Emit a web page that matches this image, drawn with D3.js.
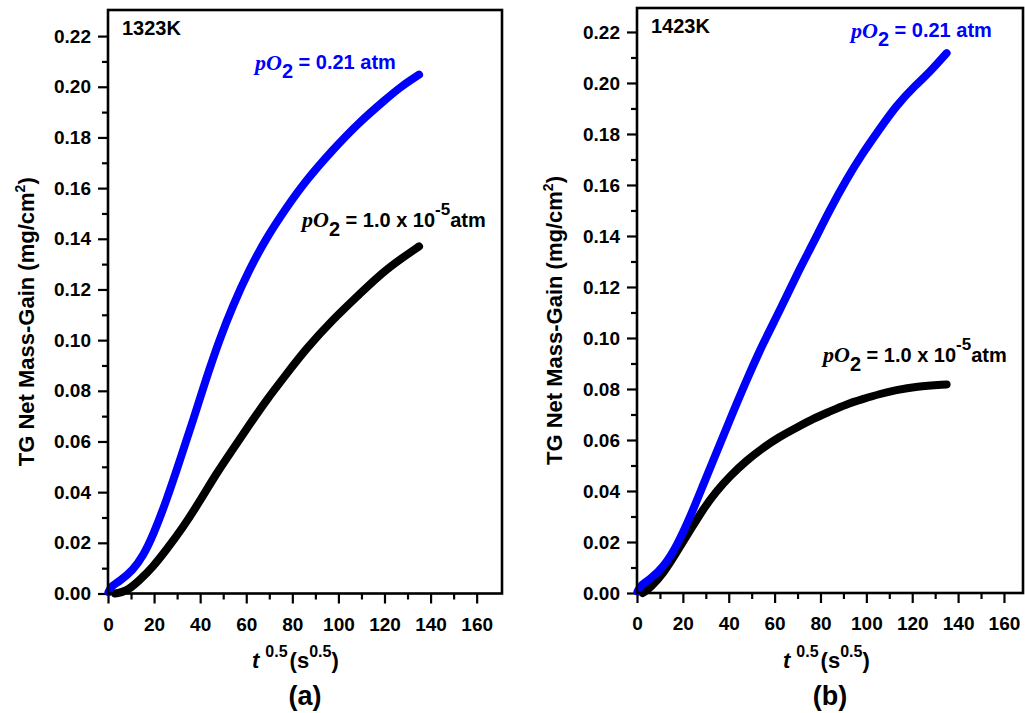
<!DOCTYPE html>
<html>
<head>
<meta charset="utf-8">
<script src="https://cdn.jsdelivr.net/npm/d3@7"></script>
<style>
  body { margin: 0; background: #fff; }
  svg { display: block; font-family: "Liberation Sans", Arial, sans-serif; font-weight: bold; }
</style>
</head>
<body>
<svg id="chart" width="1025" height="713"></svg>
<script>
// values: t^0.5 (s^0.5) vs mass gain (mg/cm2)
var blue1323X = [0.2, 1.5, 5, 10.8, 15.2, 19.5, 25.3, 31, 36.8, 42.6, 48.3, 54.1, 61.3, 68.5, 77.2, 85.9, 97.4, 109, 120.5, 127, 135];
var blue1323Y = [0.0005, 0.003, 0.0048, 0.0092, 0.0148, 0.0228, 0.0365, 0.052, 0.068, 0.0848, 0.1, 0.1135, 0.1278, 0.14, 0.152, 0.163, 0.175, 0.186, 0.195, 0.2, 0.2048];
var black1323X = [3, 7.9, 13.7, 19.5, 25.3, 32.5, 39.7, 46.9, 54.1, 61.3, 68.5, 77.2, 85.9, 97.4, 109, 120.5, 135];
var black1323Y = [0.0, 0.0007, 0.0052, 0.0105, 0.0172, 0.026, 0.0362, 0.0472, 0.0568, 0.0665, 0.076, 0.0863, 0.0965, 0.108, 0.118, 0.128, 0.137];

var blue1423X = [0.2, 1.5, 5.8, 11.6, 17.4, 23.2, 28.9, 34.7, 40.5, 47.8, 55, 62.2, 69.5, 76.7, 83.9, 91.2, 98.4, 105.6, 112.9, 121.6, 127.4, 135];
var blue1423Y = [0.0005, 0.003, 0.0054, 0.0102, 0.0185, 0.0298, 0.0425, 0.0552, 0.068, 0.0836, 0.098, 0.1106, 0.1246, 0.137, 0.15, 0.162, 0.1725, 0.1817, 0.191, 0.1993, 0.204, 0.2117];
var black1423X = [2.5, 5.8, 11.6, 17.4, 23.2, 28.9, 34.7, 40.5, 47.8, 55, 62.2, 69.5, 76.7, 83.9, 91.2, 98.4, 105.6, 112.9, 121.6, 135];
var black1423Y = [0.0, 0.002, 0.0077, 0.0162, 0.0246, 0.033, 0.04, 0.0458, 0.052, 0.057, 0.0613, 0.0648, 0.0683, 0.0711, 0.074, 0.076, 0.078, 0.0796, 0.081, 0.0818];

var yTicks = [0, 0.02, 0.04, 0.06, 0.08, 0.10, 0.12, 0.14, 0.16, 0.18, 0.20, 0.22];
var yMinor = [0.01, 0.03, 0.05, 0.07, 0.09, 0.11, 0.13, 0.15, 0.17, 0.19, 0.21];
var xTicks = [0, 20, 40, 60, 80, 100, 120, 140, 160];
var xMinor = [10, 30, 50, 70, 90, 110, 130, 150];

var panels = [
    { temp: "1323K", tag: "(a)", left: 108, right: 502, top: 10, bottom: 593.5, xMax: 171, yMax: 0.2303,
      blue: [blue1323X, blue1323Y], black: [black1323X, black1323Y],
      blueLab: [255, 70], blackLab: [302, 227], yTitleX: 34, xTitleX: 252 },
    { temp: "1423K", tag: "(b)", left: 637, right: 1023, top: 8, bottom: 593, xMax: 168.3, yMax: 0.2294,
      blue: [blue1423X, blue1423Y], black: [black1423X, black1423Y],
      blueLab: [851, 38], blackLab: [823, 362], yTitleX: 562, xTitleX: 783 }
];

var svg = d3.select("#chart");

panels.forEach(function(p) {
    var x = d3.scaleLinear().domain([0, p.xMax]).range([p.left, p.right]);
    var y = d3.scaleLinear().domain([0, p.yMax]).range([p.bottom, p.top]);
    var g = svg.append("g");

    // minor ticks first so the major ones sit on top
    g.append("g").attr("transform", "translate(0," + p.bottom + ")")
        .call(d3.axisBottom(x).tickValues(xMinor).tickSize(6).tickSizeOuter(0).tickFormat(""));
    g.append("g").attr("transform", "translate(" + p.left + ",0)")
        .call(d3.axisLeft(y).tickValues(yMinor).tickSize(6).tickSizeOuter(0).tickFormat(""));

    g.append("g").attr("class", "xaxis").attr("transform", "translate(0," + p.bottom + ")")
        .call(d3.axisBottom(x).tickValues(xTicks).tickSize(10).tickSizeOuter(0).tickPadding(14).tickFormat(d3.format("d")));
    g.append("g").attr("class", "yaxis").attr("transform", "translate(" + p.left + ",0)")
        .call(d3.axisLeft(y).tickValues(yTicks).tickSize(10).tickSizeOuter(0).tickPadding(7).tickFormat(d3.format(".2f")));

    g.selectAll(".tick line").attr("stroke", "#000").attr("stroke-width", 2.2);
    g.selectAll(".domain").remove();
    g.selectAll(".tick text").attr("fill", "#000").style("font-size", "19px").style("font-weight", "bold")
        .style("font-family", "'Liberation Sans', Arial, sans-serif");

    var line = d3.line()
        .x(function(d) { return x(d[0]); })
        .y(function(d) { return y(d[1]); })
        .curve(d3.curveBasis);

    function pairs(s) { return s[0].map(function(v, i) { return [v, s[1][i]]; }); }

    g.append("path").datum(pairs(p.black)).attr("d", line)
        .attr("fill", "none").attr("stroke", "#000").attr("stroke-width", 8)
        .attr("stroke-linecap", "round").attr("stroke-linejoin", "round");
    g.append("path").datum(pairs(p.blue)).attr("d", line)
        .attr("fill", "none").attr("stroke", "#0000ff").attr("stroke-width", 8)
        .attr("stroke-linecap", "round").attr("stroke-linejoin", "round");

    // frame
    g.append("rect").attr("x", p.left).attr("y", p.top)
        .attr("width", p.right - p.left).attr("height", p.bottom - p.top)
        .attr("fill", "none").attr("stroke", "#000").attr("stroke-width", 2.6);

    g.append("text").attr("x", p.left + 14).attr("y", p.top + 25)
        .style("font-size", "20px").text(p.temp);

    // curve labels
    var bl = g.append("text").attr("x", p.blueLab[0]).attr("y", p.blueLab[1])
        .attr("fill", "#0000ff").style("font-size", "20px");
    bl.append("tspan").style("font-family", "'Liberation Serif', 'Times New Roman', serif")
        .style("font-style", "italic").style("font-size", "22px").text("pO");
    bl.append("tspan").attr("dy", 8).text("2");
    bl.append("tspan").attr("dy", -9).text(" = 0.21 atm");

    var kl = g.append("text").attr("x", p.blackLab[0]).attr("y", p.blackLab[1])
        .attr("fill", "#000").style("font-size", "20px");
    kl.append("tspan").style("font-family", "'Liberation Serif', 'Times New Roman', serif")
        .style("font-style", "italic").style("font-size", "22px").text("pO");
    kl.append("tspan").attr("dy", 9).text("2");
    kl.append("tspan").attr("dy", -9).text(" = 1.0 x 10");
    kl.append("tspan").attr("dy", -12).style("font-size", "17px").text("-5");
    kl.append("tspan").attr("dy", 12).text("atm");

    // axis titles
    var yt = g.append("text").attr("transform", "translate(" + p.yTitleX + "," + ((p.top + p.bottom) / 2 + 20) + ") rotate(-90)")
        .attr("text-anchor", "middle").style("font-size", "22px");
    yt.append("tspan").text("TG Net Mass-Gain (mg/cm");
    yt.append("tspan").attr("dy", -9).style("font-size", "14px").text("2");
    yt.append("tspan").attr("dy", 9).text(")");

    var xt = g.append("text").attr("x", p.xTitleX).attr("y", 668).style("font-size", "22px");
    xt.append("tspan").style("font-style", "italic").text("t");
    xt.append("tspan").attr("dx", 6).attr("dy", -11).style("font-size", "16px").text("0.5");
    xt.append("tspan").attr("dx", 2).attr("dy", 11).text("(s");
    xt.append("tspan").attr("dy", -11).style("font-size", "16px").text("0.5");
    xt.append("tspan").attr("dy", 11).text(")");

    g.append("text").attr("x", (p.left + p.right) / 2).attr("y", 705)
        .attr("text-anchor", "middle").style("font-size", "27px").text(p.tag);
});
</script>
</body>
</html>
